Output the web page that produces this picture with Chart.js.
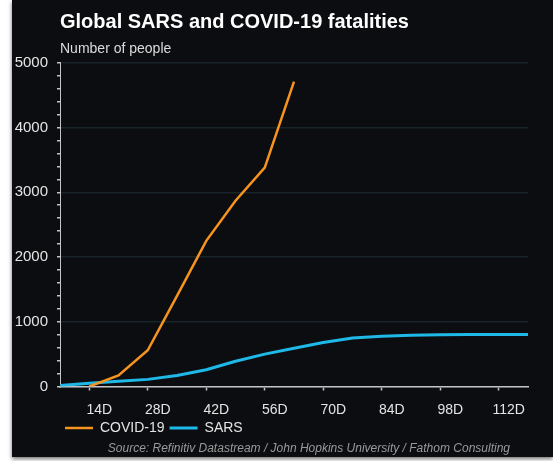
<!DOCTYPE html>
<html>
<head>
<meta charset="utf-8">
<script src="https://cdn.jsdelivr.net/npm/chart.js@4.4.1/dist/chart.umd.min.js"></script>
<style>
  body { margin: 0; background: #ffffff; width: 553px; height: 461px; overflow: hidden; }
  #panel {
    position: absolute; left: 12px; top: 0; width: 541px; height: 457px;
    background: #0b0d11; box-shadow: 0 2px 4px rgba(0,0,0,0.55);
  }
  #chart { position: absolute; left: 0; top: 0; }
  #source {
    position: absolute; right: 43px; top: 441px;
    font: italic 12px "Liberation Sans", Arial, sans-serif; color: #9a9a9a;
  }
</style>
</head>
<body>
<div id="panel">
  <canvas id="chart" width="541" height="445"></canvas>
  <div id="source">Source: Refinitiv Datastream / John Hopkins University / Fathom Consulting</div>
</div>
<script>
// days since start of outbreak
const days = [7, 14, 21, 28, 35, 42, 49, 56, 63, 70, 77, 84, 91, 98, 105, 112, 119];
const covidDays = [14, 21, 28, 35, 42, 49, 56, 63];
const covidDeaths = [0, 170, 560, 1400, 2250, 2870, 3380, 4710];
const sarsDeaths = [15, 50, 80, 110, 170, 260, 390, 500, 590, 680, 750, 775, 790, 800, 805, 805, 805];
const xTickDays = [14, 28, 42, 56, 70, 84, 98, 112];
const xTickLabels = ['14D', '28D', '42D', '56D', '70D', '84D', '98D', '112D'];

const fontFam = '"Liberation Sans", Arial, sans-serif';
const axisCol = '#c4c4c4';

let ctx = document.getElementById('chart').getContext('2d');
let chart = new Chart(ctx, {
    type: 'line',
    data: {
        datasets: [{
            label: 'COVID-19',
            data: covidDays.map((d, i) => ({x: d, y: covidDeaths[i]})),
            borderColor: '#f7941e',
            backgroundColor: '#f7941e',
            borderWidth: 2.5,
            pointRadius: 0,
            tension: 0
        }, {
            label: 'SARS',
            data: days.map((d, i) => ({x: d, y: sarsDeaths[i]})),
            borderColor: '#1fb9e8',
            backgroundColor: '#1fb9e8',
            borderWidth: 3,
            pointRadius: 0,
            tension: 0
        }]
    },
    options: {
        responsive: false,
        animation: false,
        layout: { padding: { left: 0, right: 25, bottom: 0, top: 0 } },
        scales: {
            x: {
                type: 'linear',
                min: 7,
                max: 119,
                afterBuildTicks: function(scale) {
                    scale.ticks = xTickDays.map(v => ({value: v}));
                },
                afterFit: function(scale) {
                    scale.height = 29.5; // keep the legend close to the labels
                },
                ticks: {
                    color: '#e4e4e4',
                    font: { family: fontFam, size: 14 },
                    padding: 11,
                    labelOffset: 10,
                    maxRotation: 0,
                    autoSkip: false,
                    callback: function(value) {
                        let i = xTickDays.indexOf(value);
                        return i >= 0 ? xTickLabels[i] : '';
                    }
                },
                grid: {
                    drawOnChartArea: false,
                    tickLength: 4,
                    tickColor: axisCol,
                    tickWidth: 1.5
                },
                border: { color: axisCol, width: 1.5 }
            },
            y: {
                min: 0,
                max: 5000,
                afterFit: function(scale) {
                    scale.width = 48;
                },
                ticks: {
                    stepSize: 200,
                    autoSkip: false,
                    color: '#e4e4e4',
                    font: { family: fontFam, size: 15 },
                    padding: 9,
                    callback: function(value) {
                        return value % 1000 === 0 ? value : '';
                    }
                },
                grid: {
                    color: function(c) {
                        return c.tick && c.tick.value % 1000 === 0 ? '#17242a' : 'rgba(0,0,0,0)';
                    },
                    lineWidth: 1.5,
                    tickLength: 3,
                    tickColor: axisCol
                },
                border: { color: axisCol, width: 1 }
            }
        },
        plugins: {
            title: {
                display: true,
                text: 'Global SARS and COVID-19 fatalities',
                align: 'start',
                fullSize: false,
                color: '#ffffff',
                font: { family: fontFam, size: 20, weight: 'bold' },
                padding: { top: 10, bottom: 4 }
            },
            subtitle: {
                display: true,
                text: 'Number of people',
                align: 'start',
                fullSize: false,
                color: '#dcdcdc',
                font: { family: fontFam, size: 14 },
                padding: { top: 3, bottom: 5 }
            },
            legend: {
                position: 'bottom',
                align: 'start',
                fullSize: false,
                labels: {
                    color: '#e4e4e4',
                    font: { family: fontFam, size: 14 },
                    usePointStyle: true,
                    pointStyle: 'line',
                    pointStyleWidth: 28,
                    padding: 5
                }
            },
            tooltip: { enabled: false }
        }
    }
});
</script>
</body>
</html>
